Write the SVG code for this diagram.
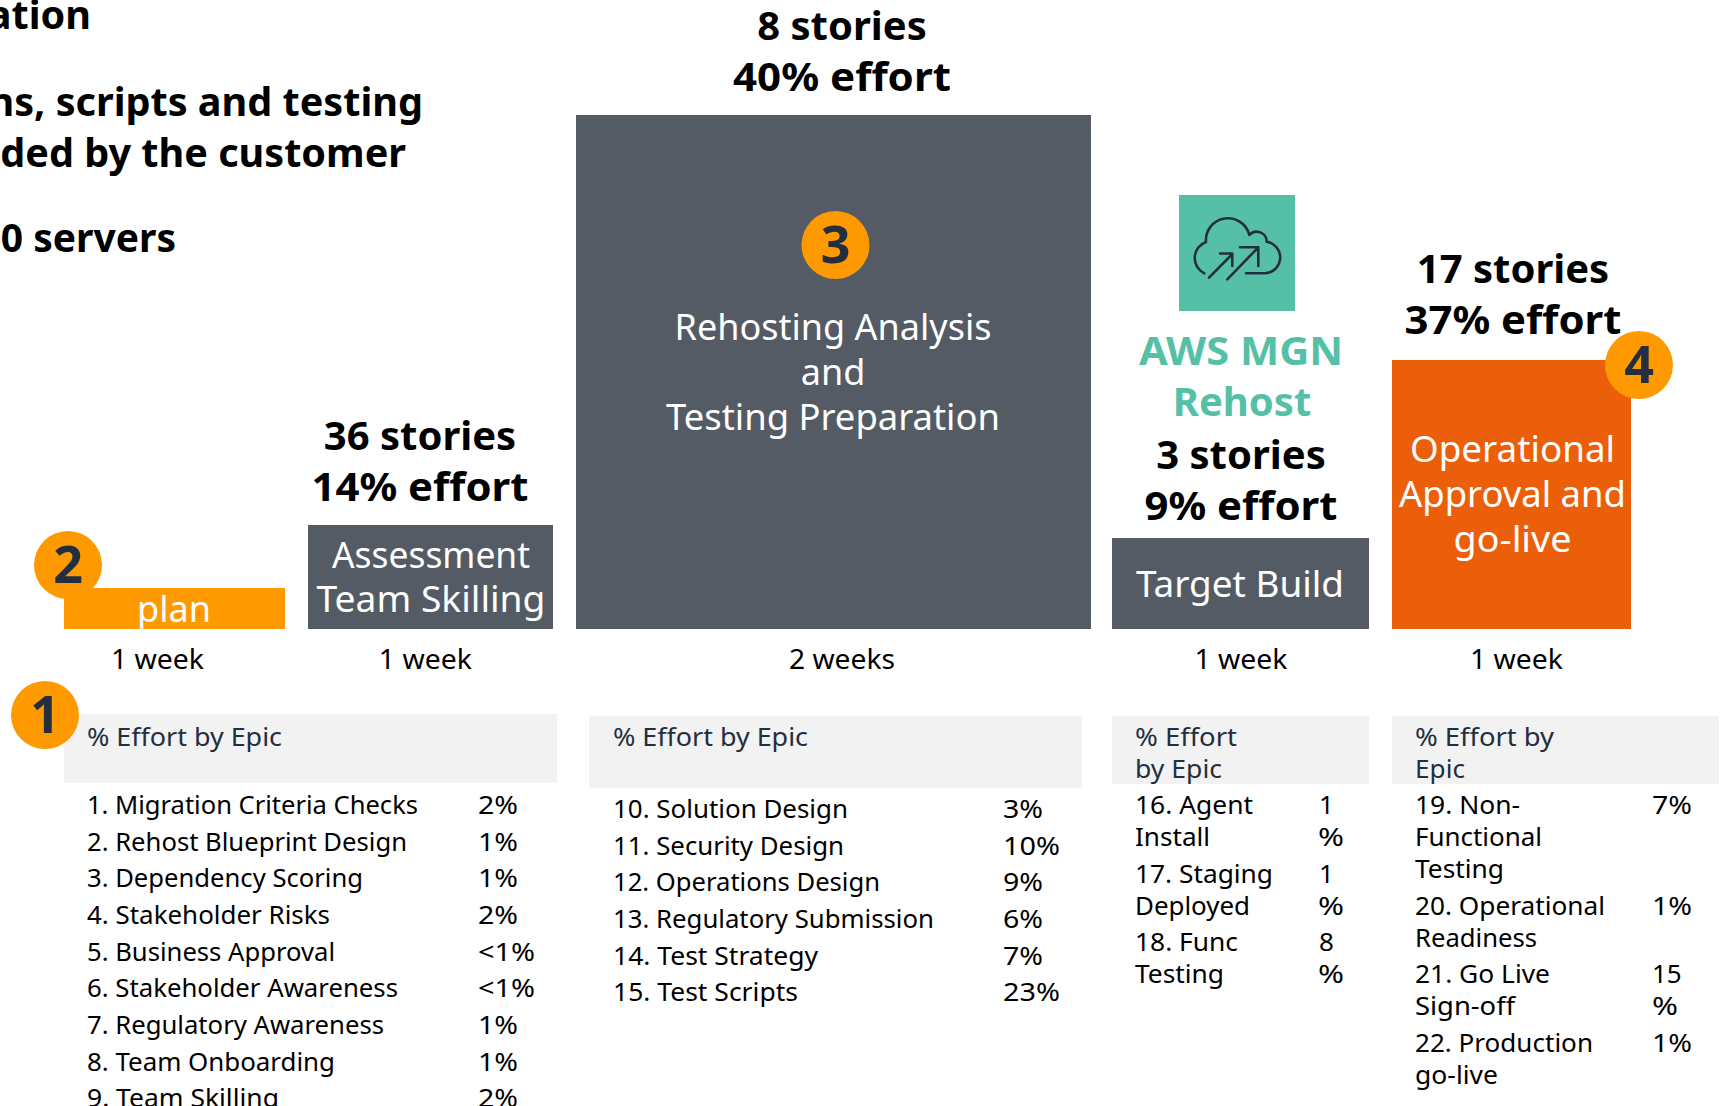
<svg xmlns="http://www.w3.org/2000/svg" width="1721" height="1106" viewBox="0 0 1721 1106">
<style>
text{font-family:"Noto Sans","Liberation Sans",sans-serif}
.h{font-size:40px;font-weight:700;fill:#000;text-anchor:middle}
.t{font-size:39.600px;font-weight:700;fill:#000;text-anchor:end}
.w{font-size:36px;fill:#fff;text-anchor:middle}
.k{font-size:28px;fill:#000;text-anchor:middle}
.l{font-size:26px;fill:#000}
.e{font-size:26px;fill:#232f3e}
.n{font-size:52px;font-weight:700;fill:#232f3e;text-anchor:middle}
.c{fill:#ff9900}.g{fill:#545b64}.b{fill:#f2f2f2}
.a{font-size:40px;font-weight:700;fill:#56c0a7;text-anchor:middle}
</style>
<rect width="1721" height="1106" fill="#fff"/>
<g id="intro">
<text class="t" x="91" y="29">ation</text>
<text class="t" x="423" y="116">ns, scripts and testing</text>
<text class="t" x="406" y="167">ded by the customer</text>
<text class="t" x="176" y="252" style="font-size:39px">0 servers</text>
</g>
<g id="connectors"></g>
<g id="plan">
<rect class="c" x="64" y="588" width="221" height="41"/>
<circle class="c" cx="68" cy="565" r="34"/>
<text class="n" x="68" y="583">2</text>
<text class="w" x="174" y="622">plan</text>
<text class="k" x="157.500" y="669" textLength="93" lengthAdjust="spacingAndGlyphs">1 week</text>
</g>
<g id="assessment">
<text class="h" x="420" y="450">36 stories</text>
<text class="h" x="420" y="501" textLength="217" lengthAdjust="spacingAndGlyphs">14% effort</text>
<rect class="g" x="308" y="525" width="245" height="104"/>
<text class="w" x="431" y="568" textLength="198" lengthAdjust="spacingAndGlyphs">Assessment</text>
<text class="w" x="431" y="612" textLength="229" lengthAdjust="spacingAndGlyphs">Team Skilling</text>
<text class="k" x="425.300" y="669" textLength="93" lengthAdjust="spacingAndGlyphs">1 week</text>
</g>
<g id="rehosting">
<text class="h" x="842" y="40">8 stories</text>
<text class="h" x="842" y="91" textLength="218" lengthAdjust="spacingAndGlyphs">40% effort</text>
<rect class="g" x="576" y="115" width="515" height="514"/>
<circle class="c" cx="835.500" cy="245" r="34"/>
<text class="n" x="835.500" y="263">3</text>
<text class="w" x="833" y="340">Rehosting Analysis</text>
<text class="w" x="833" y="385">and</text>
<text class="w" x="833" y="430" textLength="334" lengthAdjust="spacingAndGlyphs">Testing Preparation</text>
<text class="k" x="842" y="669" textLength="106" lengthAdjust="spacingAndGlyphs">2 weeks</text>
</g>
<g id="target-build">
<rect x="1179" y="195" width="116" height="116" fill="#56c0a7"/>
<g fill="none" stroke="#232f3e" stroke-width="2.600" stroke-linecap="round" stroke-linejoin="round">
<path d="M1204.300 273.300A17 17 0 0 1 1206 242A22 22 0 0 1 1249.300 235A10 10 0 0 1 1266.700 241.700A15.900 15.900 0 0 1 1265 273.300H1246"/>
<path d="M1209 277.700L1232.300 254M1220 253.500H1232.300V266M1227.300 279.300L1258.300 247.300M1240 247.300H1258.300V266"/>
</g>
<text class="a" x="1241" y="365" textLength="204" lengthAdjust="spacingAndGlyphs">AWS MGN</text>
<text class="a" x="1242" y="416">Rehost</text>
<text class="h" x="1241" y="469">3 stories</text>
<text class="h" x="1241" y="520" textLength="193" lengthAdjust="spacingAndGlyphs">9% effort</text>
<rect class="g" x="1112" y="538" width="257" height="91"/>
<text class="w" x="1240" y="597" textLength="208" lengthAdjust="spacingAndGlyphs">Target Build</text>
<text class="k" x="1241" y="669" textLength="93" lengthAdjust="spacingAndGlyphs">1 week</text>
</g>
<g id="go-live">
<text class="h" x="1513" y="283">17 stories</text>
<text class="h" x="1513" y="334" textLength="217" lengthAdjust="spacingAndGlyphs">37% effort</text>
<rect x="1392" y="360" width="239" height="269" fill="#ec5f0a"/>
<circle class="c" cx="1639" cy="365" r="34"/>
<text class="n" x="1639" y="383">4</text>
<text class="w" x="1512.500" y="462" textLength="205" lengthAdjust="spacingAndGlyphs">Operational</text>
<text class="w" x="1512.500" y="507" textLength="227" lengthAdjust="spacingAndGlyphs">Approval and</text>
<text class="w" x="1512.500" y="552" textLength="118" lengthAdjust="spacingAndGlyphs">go-live</text>
<text class="k" x="1516.500" y="669" textLength="93" lengthAdjust="spacingAndGlyphs">1 week</text>
</g>
<g id="epics-1">
<rect class="b" x="64" y="714" width="493" height="69"/>
<circle class="c" cx="45" cy="715" r="34"/>
<text class="n" x="45" y="733">1</text>
<text class="e" x="87" y="746" textLength="195" lengthAdjust="spacingAndGlyphs">% Effort by Epic</text>
<text class="l" x="87" y="814" textLength="331" lengthAdjust="spacingAndGlyphs">1. Migration Criteria Checks</text><text class="l" x="478" y="814" textLength="40" lengthAdjust="spacingAndGlyphs">2%</text>
<text class="l" x="87" y="851" textLength="320" lengthAdjust="spacingAndGlyphs">2. Rehost Blueprint Design</text><text class="l" x="478" y="851" textLength="40" lengthAdjust="spacingAndGlyphs">1%</text>
<text class="l" x="87" y="887" textLength="276" lengthAdjust="spacingAndGlyphs">3. Dependency Scoring</text><text class="l" x="478" y="887" textLength="40" lengthAdjust="spacingAndGlyphs">1%</text>
<text class="l" x="87" y="924" textLength="243" lengthAdjust="spacingAndGlyphs">4. Stakeholder Risks</text><text class="l" x="478" y="924" textLength="40" lengthAdjust="spacingAndGlyphs">2%</text>
<text class="l" x="87" y="961" textLength="248" lengthAdjust="spacingAndGlyphs">5. Business Approval</text><text class="l" x="478" y="961" textLength="57" lengthAdjust="spacingAndGlyphs">&lt;1%</text>
<text class="l" x="87" y="997" textLength="311" lengthAdjust="spacingAndGlyphs">6. Stakeholder Awareness</text><text class="l" x="478" y="997" textLength="57" lengthAdjust="spacingAndGlyphs">&lt;1%</text>
<text class="l" x="87" y="1034" textLength="297" lengthAdjust="spacingAndGlyphs">7. Regulatory Awareness</text><text class="l" x="478" y="1034" textLength="40" lengthAdjust="spacingAndGlyphs">1%</text>
<text class="l" x="87" y="1071" textLength="248" lengthAdjust="spacingAndGlyphs">8. Team Onboarding</text><text class="l" x="478" y="1071" textLength="40" lengthAdjust="spacingAndGlyphs">1%</text>
<text class="l" x="87" y="1107" textLength="192" lengthAdjust="spacingAndGlyphs">9. Team Skilling</text><text class="l" x="478" y="1107" textLength="40" lengthAdjust="spacingAndGlyphs">2%</text>
</g>
<g id="epics-2">
<rect class="b" x="589" y="716" width="493" height="72"/>
<text class="e" x="613" y="746" textLength="195" lengthAdjust="spacingAndGlyphs">% Effort by Epic</text>
<text class="l" x="613" y="818" textLength="235" lengthAdjust="spacingAndGlyphs">10. Solution Design</text><text class="l" x="1003" y="818" textLength="40" lengthAdjust="spacingAndGlyphs">3%</text>
<text class="l" x="613" y="855" textLength="231" lengthAdjust="spacingAndGlyphs">11. Security Design</text><text class="l" x="1003" y="855" textLength="57" lengthAdjust="spacingAndGlyphs">10%</text>
<text class="l" x="613" y="891" textLength="267" lengthAdjust="spacingAndGlyphs">12. Operations Design</text><text class="l" x="1003" y="891" textLength="40" lengthAdjust="spacingAndGlyphs">9%</text>
<text class="l" x="613" y="928" textLength="321" lengthAdjust="spacingAndGlyphs">13. Regulatory Submission</text><text class="l" x="1003" y="928" textLength="40" lengthAdjust="spacingAndGlyphs">6%</text>
<text class="l" x="613" y="965" textLength="205" lengthAdjust="spacingAndGlyphs">14. Test Strategy</text><text class="l" x="1003" y="965" textLength="40" lengthAdjust="spacingAndGlyphs">7%</text>
<text class="l" x="613" y="1001" textLength="185" lengthAdjust="spacingAndGlyphs">15. Test Scripts</text><text class="l" x="1003" y="1001" textLength="57" lengthAdjust="spacingAndGlyphs">23%</text>
</g>
<g id="epics-3">
<rect class="b" x="1112" y="716" width="257" height="68"/>
<text class="e" x="1135" y="746" textLength="102" lengthAdjust="spacingAndGlyphs">% Effort</text>
<text class="e" x="1135" y="778" textLength="87" lengthAdjust="spacingAndGlyphs">by Epic</text>
<text class="l" x="1135" y="814" textLength="118" lengthAdjust="spacingAndGlyphs">16. Agent</text><text class="l" x="1135" y="846" textLength="75" lengthAdjust="spacingAndGlyphs">Install</text><text class="l" x="1319" y="814">1</text><text class="l" x="1318" y="846" textLength="26" lengthAdjust="spacingAndGlyphs">%</text>
<text class="l" x="1135" y="883" textLength="138" lengthAdjust="spacingAndGlyphs">17. Staging</text><text class="l" x="1135" y="915" textLength="115" lengthAdjust="spacingAndGlyphs">Deployed</text><text class="l" x="1319" y="883">1</text><text class="l" x="1318" y="915" textLength="26" lengthAdjust="spacingAndGlyphs">%</text>
<text class="l" x="1135" y="951" textLength="103" lengthAdjust="spacingAndGlyphs">18. Func</text><text class="l" x="1135" y="983" textLength="89" lengthAdjust="spacingAndGlyphs">Testing</text><text class="l" x="1319" y="951">8</text><text class="l" x="1318" y="983" textLength="26" lengthAdjust="spacingAndGlyphs">%</text>
</g>
<g id="epics-4">
<rect class="b" x="1392" y="716" width="327" height="68"/>
<text class="e" x="1415" y="746" textLength="139" lengthAdjust="spacingAndGlyphs">% Effort by</text>
<text class="e" x="1415" y="778" textLength="50" lengthAdjust="spacingAndGlyphs">Epic</text>
<text class="l" x="1415" y="814" textLength="105" lengthAdjust="spacingAndGlyphs">19. Non-</text><text class="l" x="1415" y="846" textLength="127" lengthAdjust="spacingAndGlyphs">Functional</text><text class="l" x="1415" y="878" textLength="89" lengthAdjust="spacingAndGlyphs">Testing</text><text class="l" x="1652" y="814" textLength="40" lengthAdjust="spacingAndGlyphs">7%</text>
<text class="l" x="1415" y="915" textLength="190" lengthAdjust="spacingAndGlyphs">20. Operational</text><text class="l" x="1415" y="947" textLength="122" lengthAdjust="spacingAndGlyphs">Readiness</text><text class="l" x="1652" y="915" textLength="40" lengthAdjust="spacingAndGlyphs">1%</text>
<text class="l" x="1415" y="983" textLength="135" lengthAdjust="spacingAndGlyphs">21. Go Live</text><text class="l" x="1415" y="1015" textLength="100" lengthAdjust="spacingAndGlyphs">Sign-off</text><text class="l" x="1652" y="983">15</text><text class="l" x="1652" y="1015" textLength="26" lengthAdjust="spacingAndGlyphs">%</text>
<text class="l" x="1415" y="1052" textLength="178" lengthAdjust="spacingAndGlyphs">22. Production</text><text class="l" x="1415" y="1084" textLength="83" lengthAdjust="spacingAndGlyphs">go-live</text><text class="l" x="1652" y="1052" textLength="40" lengthAdjust="spacingAndGlyphs">1%</text>
</g>
</svg>
